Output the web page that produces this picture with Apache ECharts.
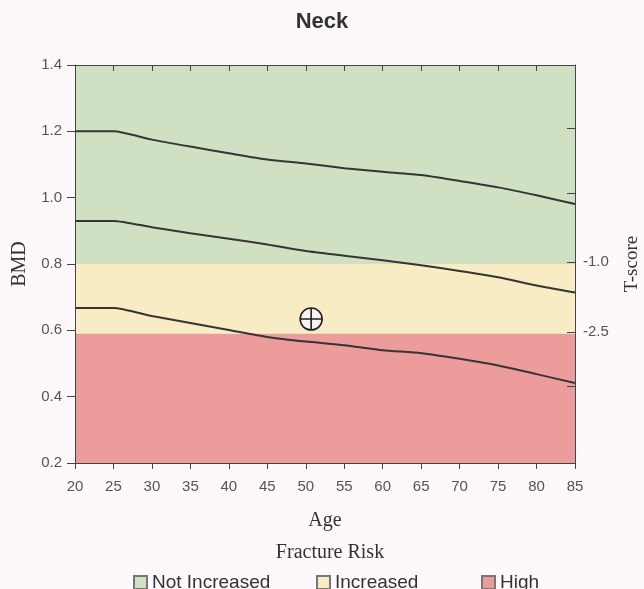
<!DOCTYPE html>
<html>
<head>
<meta charset="utf-8">
<script src="https://cdn.jsdelivr.net/npm/echarts@6/dist/echarts.min.js"></script>
<style>
html,body{margin:0;padding:0;background:#fcf8fb;}
#chart{width:644px;height:589px;}
</style>
</head>
<body>
<div id="chart"></div>
<script>
// ---- data ----
const ages = [20, 25, 30, 35, 40, 45, 50, 55, 60, 65, 70, 75, 80, 85];
const curveTop    = [1.200, 1.200, 1.175, 1.154, 1.134, 1.115, 1.103, 1.089, 1.078, 1.068, 1.050, 1.031, 1.007, 0.981];
const curveMiddle = [0.930, 0.930, 0.911, 0.893, 0.876, 0.859, 0.839, 0.825, 0.811, 0.796, 0.779, 0.760, 0.735, 0.714];
const curveBottom = [0.667, 0.667, 0.643, 0.622, 0.601, 0.580, 0.566, 0.555, 0.540, 0.531, 0.514, 0.494, 0.468, 0.441];
const patient = [50.7, 0.634];
const zoneNames = ['Not Increased', 'Increased', 'High'];
const zoneRanges = [[0.8, 1.4], [0.59, 0.8], [0.2, 0.59]];
const tScoreTickBMD = [1.21, 1.012, 0.806, 0.595, 0.43];
const tScoreLabelBMD = [0.806, 0.595];
const tScoreLabels = ['-1.0', '-2.5'];

const zoneColors = ['#d0e1c3', '#f8ecc4', '#eb9c9b'];
const legendLefts = [128, 311, 476];
const sans = 'Liberation Sans, Arial, sans-serif';
const serif = 'Liberation Serif, Times New Roman, serif';

const chart = echarts.init(document.getElementById('chart'));

const zoneSeries = zoneNames.map((name, i) => ({
  name: name,
  type: 'line',
  data: [],
  color: zoneColors[i],
  itemStyle: { color: zoneColors[i], borderColor: '#777', borderWidth: 1 },
  silent: true,
  z: 1,
  markArea: {
    silent: true,
    itemStyle: { color: zoneColors[i], opacity: 1 },
    data: [[{ yAxis: zoneRanges[i][0] }, { yAxis: zoneRanges[i][1] }]]
  }
}));

function curve(vals) {
  return {
    type: 'line',
    data: ages.map((a, i) => [a, vals[i]]),
    symbol: 'none',
    smooth: 0.2,
    lineStyle: { color: '#353535', width: 2 },
    silent: true,
    z: 3
  };
}

const option = {
  backgroundColor: '#fcf8fb',
  animation: false,
  title: [
    { text: 'Neck', left: 'center', top: 6,
      textStyle: { fontFamily: sans, fontWeight: 'bold', fontSize: 22, color: '#333' } },
    { text: 'Fracture Risk', left: 325, textAlign: 'center', top: 538,
      textStyle: { fontFamily: serif, fontWeight: 'normal', fontSize: 20, color: '#333' } }
  ],
  legend: zoneNames.map((name, i) => ({
    data: [name],
    left: legendLefts[i], top: 568,
    icon: 'rect', itemWidth: 13, itemHeight: 13,
    textStyle: { fontFamily: sans, fontSize: 19, color: '#333' },
    selectedMode: false
  })),
  grid: { left: 75, right: 69, top: 65, bottom: 126, outerBoundsMode: 'none', containLabel: false },
  xAxis: [
    { type: 'value', min: 20, max: 85, interval: 5, position: 'bottom', z: 10,
      name: 'Age', nameLocation: 'middle', nameGap: 48,
      nameTextStyle: { fontFamily: serif, fontSize: 20, color: '#333' },
      axisLine: { show: true, lineStyle: { color: '#444', width: 1 } },
      axisTick: { show: true, inside: false, length: 6, lineStyle: { color: '#444' } },
      axisLabel: { fontFamily: sans, fontSize: 15, color: '#555', margin: 16 },
      splitLine: { show: false } },
    { type: 'value', min: 20, max: 85, interval: 5, position: 'top', z: 10,
      axisLine: { show: true, lineStyle: { color: '#444', width: 1 } },
      axisTick: { show: true, inside: true, length: 6, lineStyle: { color: '#444' } },
      axisLabel: { show: false },
      splitLine: { show: false } }
  ],
  yAxis: [
    { type: 'value', min: 0.2, max: 1.4, interval: 0.2, position: 'left', z: 10,
      name: 'BMD', nameLocation: 'middle', nameGap: 42, nameRotate: 90,
      nameTextStyle: { fontFamily: serif, fontSize: 20, color: '#333' },
      axisLine: { show: true, lineStyle: { color: '#444', width: 1 } },
      axisTick: { show: true, inside: false, length: 8, lineStyle: { color: '#444' } },
      axisLabel: { fontFamily: sans, fontSize: 15, color: '#555', margin: 13,
        formatter: v => v.toFixed(1) },
      splitLine: { show: false } },
    { type: 'value', min: 0.2, max: 1.4, position: 'right', z: 10,
      name: 'T-score', nameLocation: 'middle', nameGap: 48, nameRotate: 90,
      nameTextStyle: { fontFamily: serif, fontSize: 19, color: '#333' },
      axisLine: { show: true, lineStyle: { color: '#444', width: 1 } },
      axisTick: { show: true, inside: true, length: 8, lineStyle: { color: '#444' },
        customValues: tScoreTickBMD },
      axisLabel: { fontFamily: sans, fontSize: 15, color: '#555', margin: 8,
        customValues: tScoreLabelBMD,
        formatter: v => {
          const idx = tScoreLabelBMD.findIndex(b => Math.abs(b - v) < 1e-6);
          return idx >= 0 ? tScoreLabels[idx] : '';
        } },
      splitLine: { show: false } }
  ],
  series: [
    ...zoneSeries,
    curve(curveTop),
    curve(curveMiddle),
    curve(curveBottom),
    {
      type: 'scatter',
      data: [patient],
      symbol: 'path://M10,0 A10,10 0 1,1 10,20 A10,10 0 1,1 10,0 Z M10,0 L10,20 M0,10 L20,10',
      symbolSize: 22,
      itemStyle: { color: '#f7f2f5', borderColor: '#222', borderWidth: 1.6, opacity: 1 },
      silent: true,
      z: 5
    }
  ]
};
chart.setOption(option);
</script>
</body>
</html>
